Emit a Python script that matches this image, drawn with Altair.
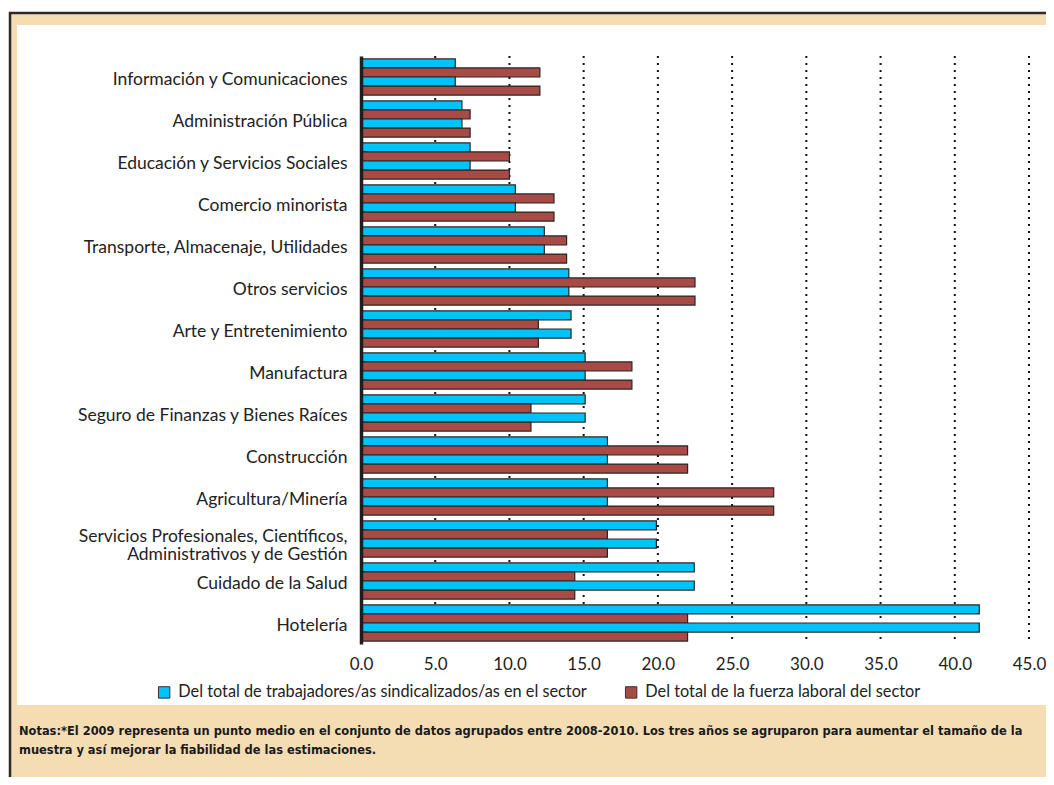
import altair as alt
import pandas as pd

categories = [
    "Información y Comunicaciones",
    "Administración Pública",
    "Educación y Servicios Sociales",
    "Comercio minorista",
    "Transporte, Almacenaje, Utilidades",
    "Otros servicios",
    "Arte y Entretenimiento",
    "Manufactura",
    "Seguro de Finanzas y Bienes Raíces",
    "Construcción",
    "Agricultura/Minería",
    "Servicios Profesionales, Científicos,\nAdministrativos y de Gestión",
    "Cuidado de la Salud",
    "Hotelería",
]
union_share = [6.35, 6.8, 7.35, 10.4, 12.35, 14.0, 14.15, 15.1, 15.1, 16.6, 16.6, 19.9, 22.45, 41.65]
workforce_share = [12.05, 7.35, 10.0, 13.0, 13.85, 22.5, 11.95, 18.25, 11.45, 22.0, 27.8, 16.6, 14.4, 22.0]

series_names = [
    "Del total de trabajadores/as sindicalizados/as en el sector",
    "Del total de la fuerza laboral del sector",
]
series_colors = ["#00C4F9", "#A84B46"]
x_ticks = [0, 5, 10, 15, 20, 25, 30, 35, 40, 45]
grid_vals = [5, 10, 15, 20, 25, 30, 35, 40, 45]
note_lines = [
    "Notas:*El 2009 representa un punto medio en el conjunto de datos agrupados entre 2008-2010. Los tres años se agruparon para aumentar el tamaño de la",
    "muestra y así mejorar la fiabilidad de las estimaciones.",
]

rows = []
for c, u, w in zip(categories, union_share, workforce_share):
    rows.append({"cat": c, "series": series_names[0], "sub": "a", "value": u})
    rows.append({"cat": c, "series": series_names[1], "sub": "b", "value": w})
    rows.append({"cat": c, "series": series_names[0], "sub": "c", "value": u})
    rows.append({"cat": c, "series": series_names[1], "sub": "d", "value": w})
df = pd.DataFrame(rows)

FONT = "Lato"
W, H = 668, 588

x_scale = alt.Scale(domain=[0, 45], nice=False, zero=True)
x_axis = alt.Axis(
    values=x_ticks, format=".1f", grid=False, domain=False, ticks=False,
    labelFlush=False, labelPadding=12, labelFontSize=17, labelFont=FONT,
    labelColor="#222222", zindex=1,
)

one = pd.DataFrame({"k": [0]})
tan_panel = alt.Chart(one).mark_rect(
    fill="#F4DDB3", stroke="#2a2a2a", strokeWidth=2.5
).encode(
    x=alt.value(-351), x2=alt.value(900), y=alt.value(-43), y2=alt.value(900)
)
white_panel = alt.Chart(one).mark_rect(fill="#FFFFFF").encode(
    x=alt.value(-344), x2=alt.value(900), y=alt.value(-31), y2=alt.value(649)
)

grid = alt.Chart(pd.DataFrame({"value": grid_vals})).mark_rule(
    strokeDash=[2, 5], strokeWidth=2, color="#111111", strokeCap="butt"
).encode(x=alt.X("value:Q", scale=x_scale, axis=x_axis, title=None))

bars = alt.Chart(df).mark_bar(stroke="#262626", strokeWidth=1.2).encode(
    y=alt.Y(
        "cat:N", sort=categories, title=None,
        scale=alt.Scale(paddingInner=0.14, paddingOuter=0.07),
        axis=alt.Axis(
            ticks=False, domainColor="#1e1e1e", domainWidth=3.5,
            labelPadding=14, labelFontSize=17.5, labelFont=FONT,
            labelColor="#222222", labelLimit=0, labelLineHeight=17.5,
            labelOffset={"condition": {"test": "indexof(datum.value, 'Gesti') >= 0", "value": -2}, "value": 3},
            labelExpr="split(datum.value, '\\n')", zindex=1,
        ),
    ),
    yOffset=alt.YOffset("sub:N", sort=["a", "b", "c", "d"], scale=alt.Scale(paddingInner=0, paddingOuter=0)),
    x=alt.X("value:Q", scale=x_scale, axis=x_axis, title=None),
    color=alt.Color(
        "series:N",
        scale=alt.Scale(domain=series_names, range=series_colors),
        sort=series_names,
        legend=alt.Legend(
            title=None, orient="none", legendX=-205, legendY=628,
            direction="horizontal", symbolType="square", symbolSize=130,
            symbolStrokeColor="#333333", symbolStrokeWidth=1,
            labelFontSize=16.3, labelFont=FONT, labelColor="#222222",
            columnPadding=36, labelOffset=6, labelLimit=0,
        ),
    ),
)

notes = alt.Chart(pd.DataFrame({"t": ["\n".join(note_lines)]})).mark_text(
    align="left", baseline="top", font="DejaVu Sans", fontSize=11.45,
    fontWeight="bold", color="#1a1a1a", lineBreak="\n", lineHeight=19,
).encode(x=alt.value(-342), y=alt.value(670), text="t:N")

chart = alt.layer(tan_panel, white_panel, grid, bars, notes).properties(
    width=W, height=H,
    autosize=alt.AutoSizeParams(type="none"),
    padding={"left": 353, "top": 48, "right": 17, "bottom": 133},
).configure_view(stroke=None).configure(background="#FFFFFF")

chart.save("out.html", embed_options={"renderer": "svg", "actions": False})
